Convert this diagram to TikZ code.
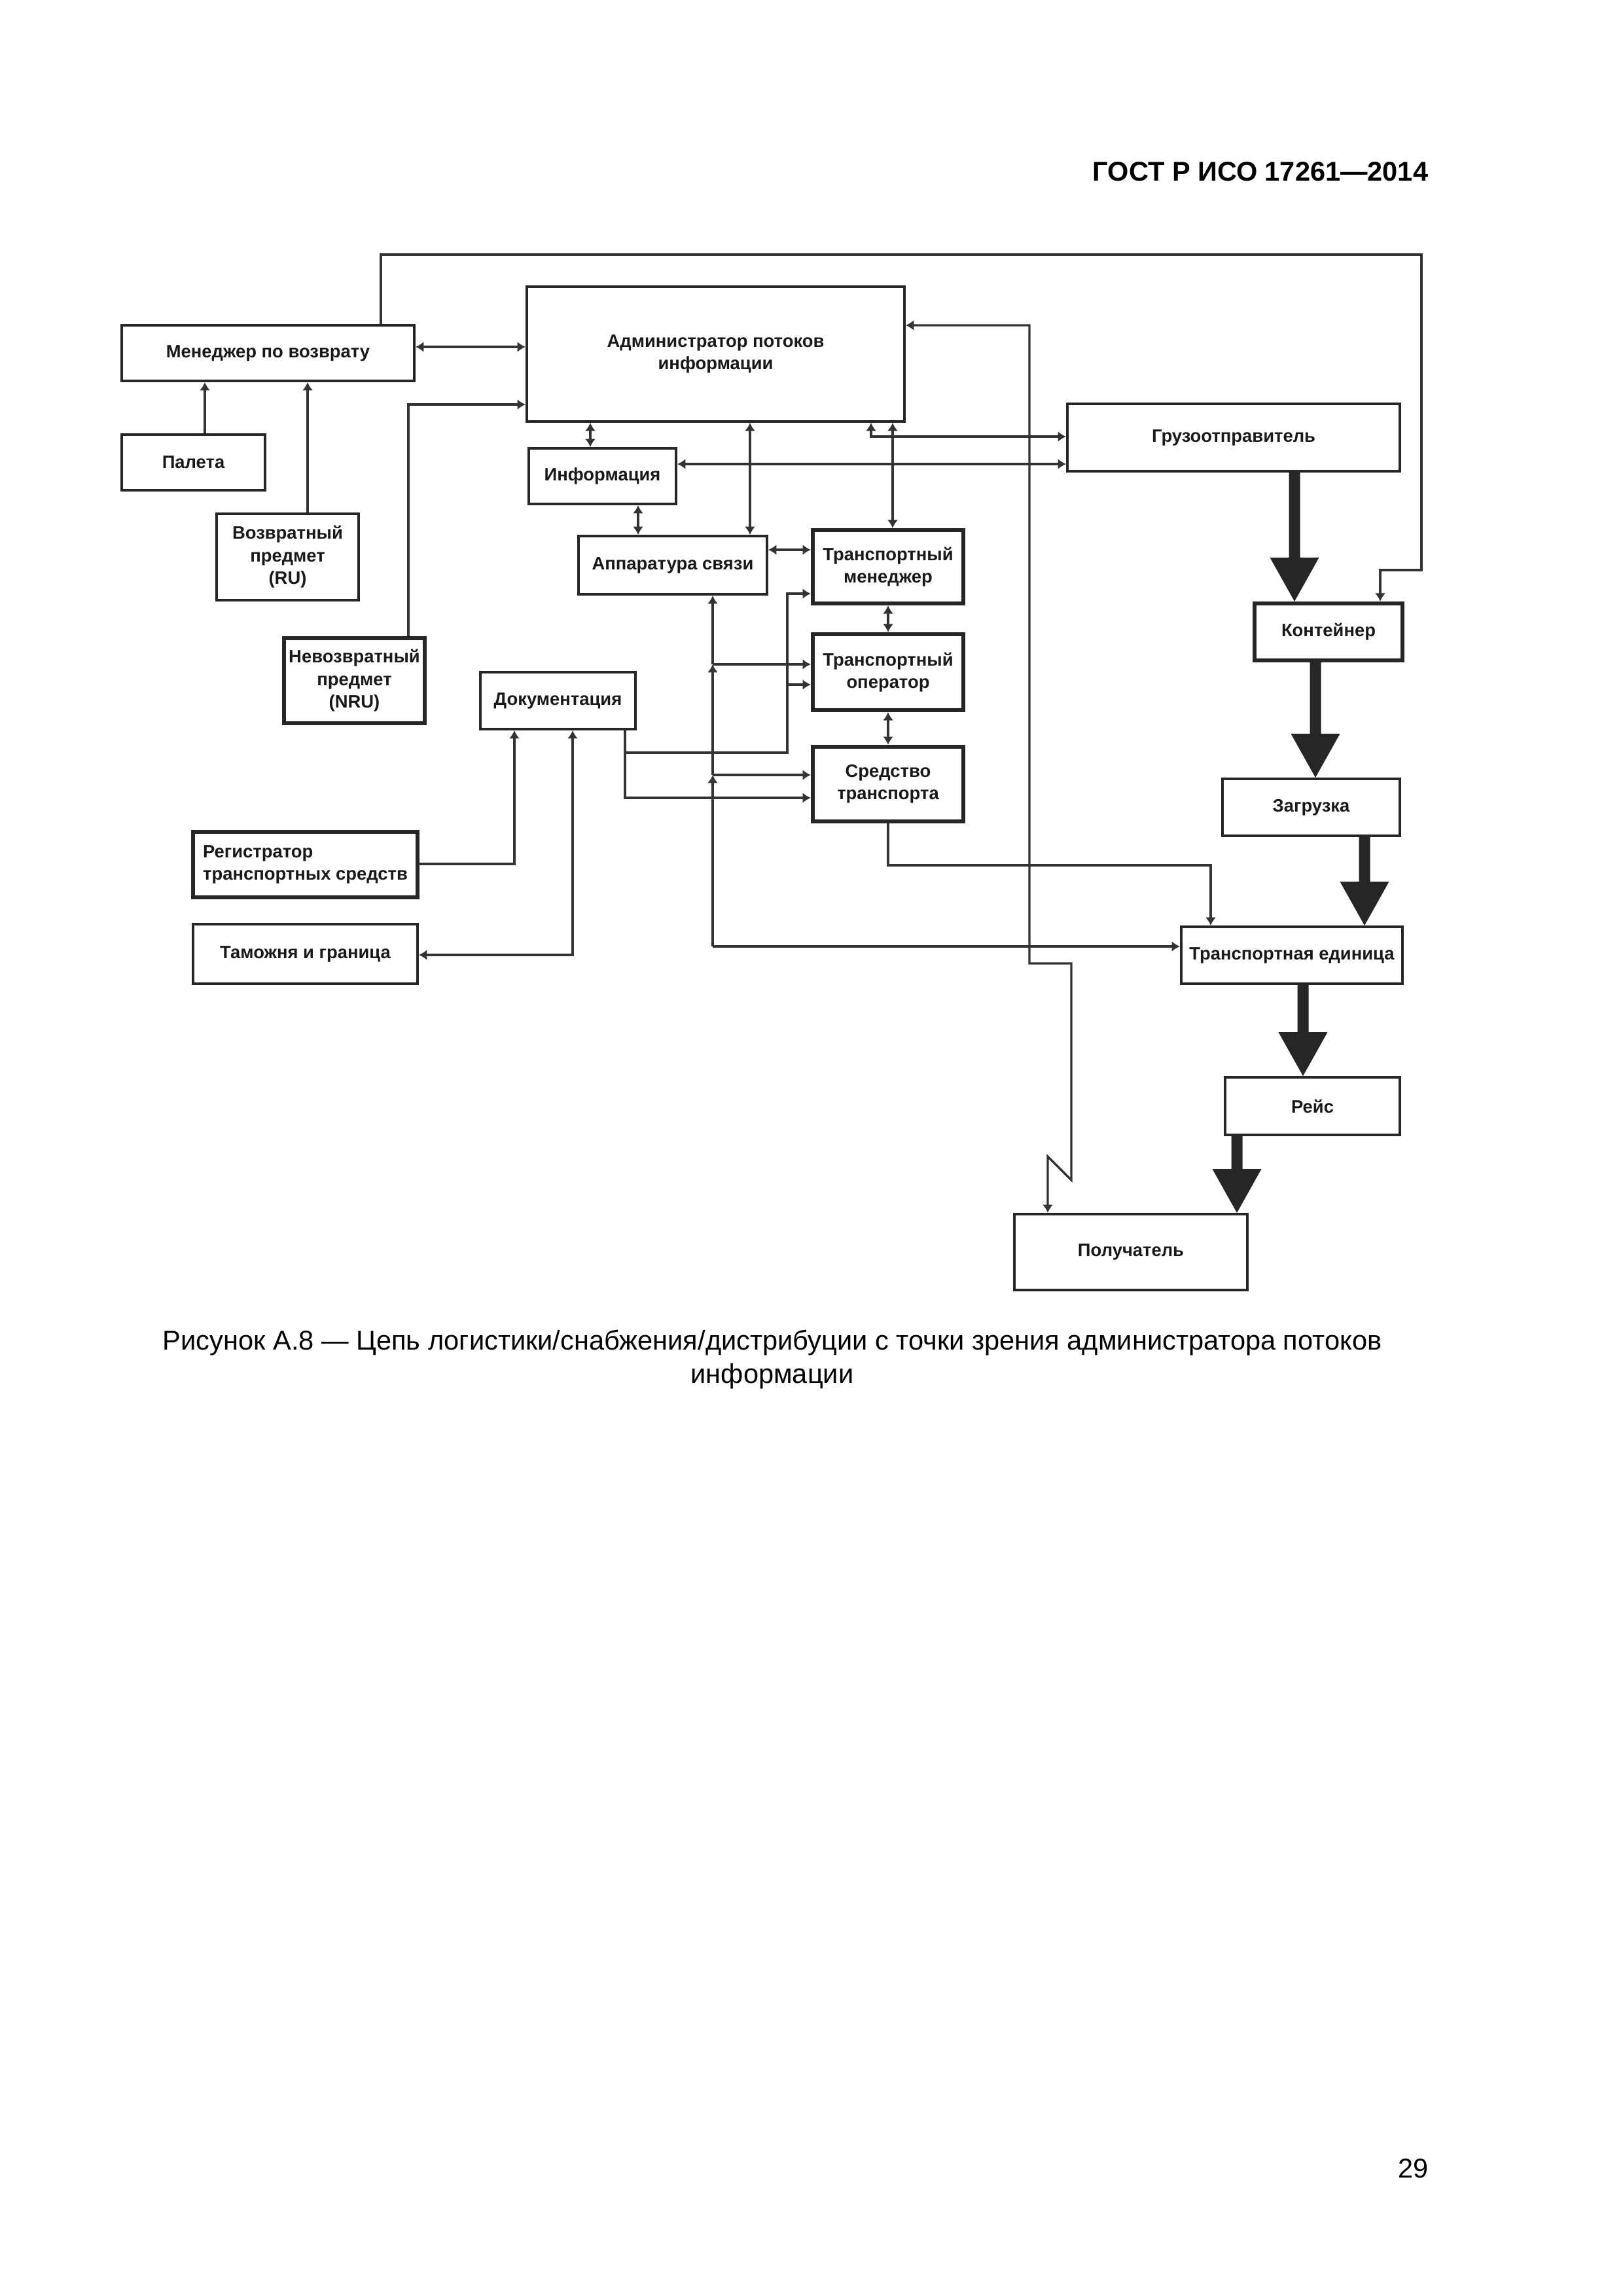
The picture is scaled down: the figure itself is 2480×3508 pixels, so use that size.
\documentclass[tikz,border=0pt]{standalone}
\usepackage{fontspec}
\setmainfont{Liberation Sans}
\usetikzlibrary{arrows.meta,calc}
\newdimen\upx
\upx=0.0846774mm
\tikzset{
  tp/.tip={Latex[length=1.05mm,width=1.35mm]},
  sz/.style 2 args={minimum width=#1\upx, minimum height=#2\upx},
  box/.style={draw=black!85, line width=0.95pt, fill=white, inner sep=0pt, align=center,
    font=\bfseries\fontsize{6.6}{8.3}\selectfont, text=black!90},
  tbox/.style={box, line width=1.5pt},
  conn/.style={draw=black!80, line width=0.8pt, -tp},
  conn2/.style={draw=black!80, line width=0.8pt, tp-tp},
  thk/.style={fill=black!85}
}
\newcommand{\thickarr}[3]{%
  \fill[thk]
   ($(#1,0 |- #2.south)+(-8.5,0)$) --
   ($(#1,0 |- #2.south)+(8.5,0)$) --
   ($(#1,0 |- #3.north)+(8.5,-67)$) --
   ($(#1,0 |- #3.north)+(37.5,-67)$) --
   (#1,0 |- #3.north) --
   ($(#1,0 |- #3.north)+(-37.5,-67)$) --
   ($(#1,0 |- #3.north)+(-8.5,-67)$) -- cycle;}
\begin{document}
\begin{tikzpicture}[x=0.0846774mm,y=-0.0846774mm]
\useasboundingbox (0,0) rectangle (2480,3508);
\fill[white] (0,0) rectangle (2480,3508);

% header and page number
\node[anchor=east, inner sep=0pt, font=\bfseries\fontsize{10}{12}\selectfont] (hdr) at (2183,262) {ГОСТ Р ИСО 17261—2014};
\node[anchor=east, inner sep=0pt, font=\fontsize{10}{12}\selectfont] (pg) at (2183,3313) {29};

% boxes
\node[box, sz={447}{85}] (men) at (409.5,539.5) {Менеджер по возврату};
\node[box, sz={219}{85}] (pal) at (295.5,706.5) {Палета};
\node[box, sz={217}{132}] (ru) at (439.5,851) {Возвратный\\предмет\\(RU)};
\node[tbox, sz={215}{130}] (nru) at (541.5,1040) {Невозвратный\\предмет\\(NRU)};
\node[box, sz={577}{206}] (adm) at (1093.5,541) {Администратор потоков\\информации};
\node[box, sz={225}{85}] (inf) at (920.5,727.5) {Информация};
\node[box, sz={288}{89}] (app) at (1028,863.5) {Аппаратура связи};
\node[tbox, sz={230}{112}] (tmgr) at (1357,866) {Транспортный\\менеджер};
\node[tbox, sz={230}{116}] (topr) at (1357,1027) {Транспортный\\оператор};
\node[tbox, sz={230}{114}] (tsr) at (1357,1198) {Средство\\транспорта};
\node[box, sz={237}{87}] (doc) at (852.5,1070.5) {Документация};
\node[tbox, sz={343}{100}, align=left] (reg) at (466.5,1321) {Регистратор\\транспортных средств};
\node[box, sz={343}{91}] (tam) at (466.5,1457.5) {Таможня и граница};
\node[box, sz={508}{103}] (gruz) at (1885,668.5) {Грузоотправитель};
\node[tbox, sz={226}{87}] (kont) at (2030,965.5) {Контейнер};
\node[box, sz={271}{87}] (zag) at (2003.5,1233.5) {Загрузка};
\node[box, sz={338}{87}] (tu) at (1974,1459.5) {Транспортная единица};
\node[box, sz={267}{88}] (reis) at (2005.5,1690) {Рейс};
\node[box, sz={356}{116}] (pol) at (1728,1913) {Получатель};

% caption
\node[align=center, inner sep=0pt, font=\fontsize{10.02}{12.2}\selectfont] (cap) at (1180,2077)
  {Рисунок А.8 — Цепь логистики/снабжения/дистрибуции с точки зрения администратора потоков\\информации};

% connectors, left part
\draw[conn] (582,0 |- men.north) -- (582,389) -- (2172,389) -- (2172,871) -- (2109,871) -- (2109,0 |- kont.north);
\draw[conn2] (men.east |- 0,530) -- (adm.west |- 0,530);
\draw[conn] (624,0 |- nru.north) -- (624,618) -- (adm.west |- 0,618);
\draw[conn] (313,0 |- pal.north) -- (313,0 |- men.south);
\draw[conn] (470,0 |- ru.north) -- (470,0 |- men.south);

% around the administrator
\draw[conn2] (902,0 |- adm.south) -- (902,0 |- inf.north);
\draw[conn2] (1146,0 |- adm.south) -- (1146,0 |- app.north);
\draw[conn2] (975,0 |- inf.south) -- (975,0 |- app.north);
\draw[conn2] (1364,0 |- adm.south) -- (1364,0 |- tmgr.north);
\draw[conn2] (1331,0 |- adm.south) -- (1331,667) -- (gruz.west |- 0,667);
\draw[conn2] (inf.east |- 0,709) -- (gruz.west |- 0,709);
\draw[conn2] (adm.east |- 0,497) -- (1573,497) -- (1573,1472) -- (1637,1472) -- (1637,1803) -- (1601,1767) -- (1601,0 |- pol.north);

% transport column
\draw[conn2] (app.east |- 0,840) -- (tmgr.west |- 0,840);
\draw[conn2] (1357,0 |- tmgr.south) -- (1357,0 |- topr.north);
\draw[conn2] (1357,0 |- topr.south) -- (1357,0 |- tsr.north);
\draw[conn] (1357,0 |- tsr.south) -- (1357,1322) -- (1850,1322) -- (1850,0 |- tu.north);

% documentation lines
\draw[conn] (955,0 |- doc.south) -- (955,1219) -- (tsr.west |- 0,1219);
\draw[conn] (955,1150) -- (1203,1150) -- (1203,907) -- (tmgr.west |- 0,907);
\draw[conn] (1203,1046) -- (topr.west |- 0,1046);
\draw[conn] (reg.east |- 0,1320) -- (786,1320) -- (786,0 |- doc.south);
\draw[conn2] (875,0 |- doc.south) -- (875,1459) -- (tam.east |- 0,1459);

% vertical from communication equipment
\draw[conn] (1089,1015) -- (1089,0 |- app.south);
\draw[conn] (1089,1184) -- (1089,1015);
\draw[conn] (1089,1446) -- (1089,1184);
\draw[conn] (1089,1446) -- (tu.west |- 0,1446);
\draw[conn] (1089,1015) -- (topr.west |- 0,1015);
\draw[conn] (1089,1184) -- (tsr.west |- 0,1184);

% thick flow arrows
\thickarr{1978}{gruz}{kont}
\thickarr{2010}{kont}{zag}
\thickarr{2085}{zag}{tu}
\thickarr{1991}{tu}{reis}
\thickarr{1890}{reis}{pol}
\end{tikzpicture}
\end{document}
